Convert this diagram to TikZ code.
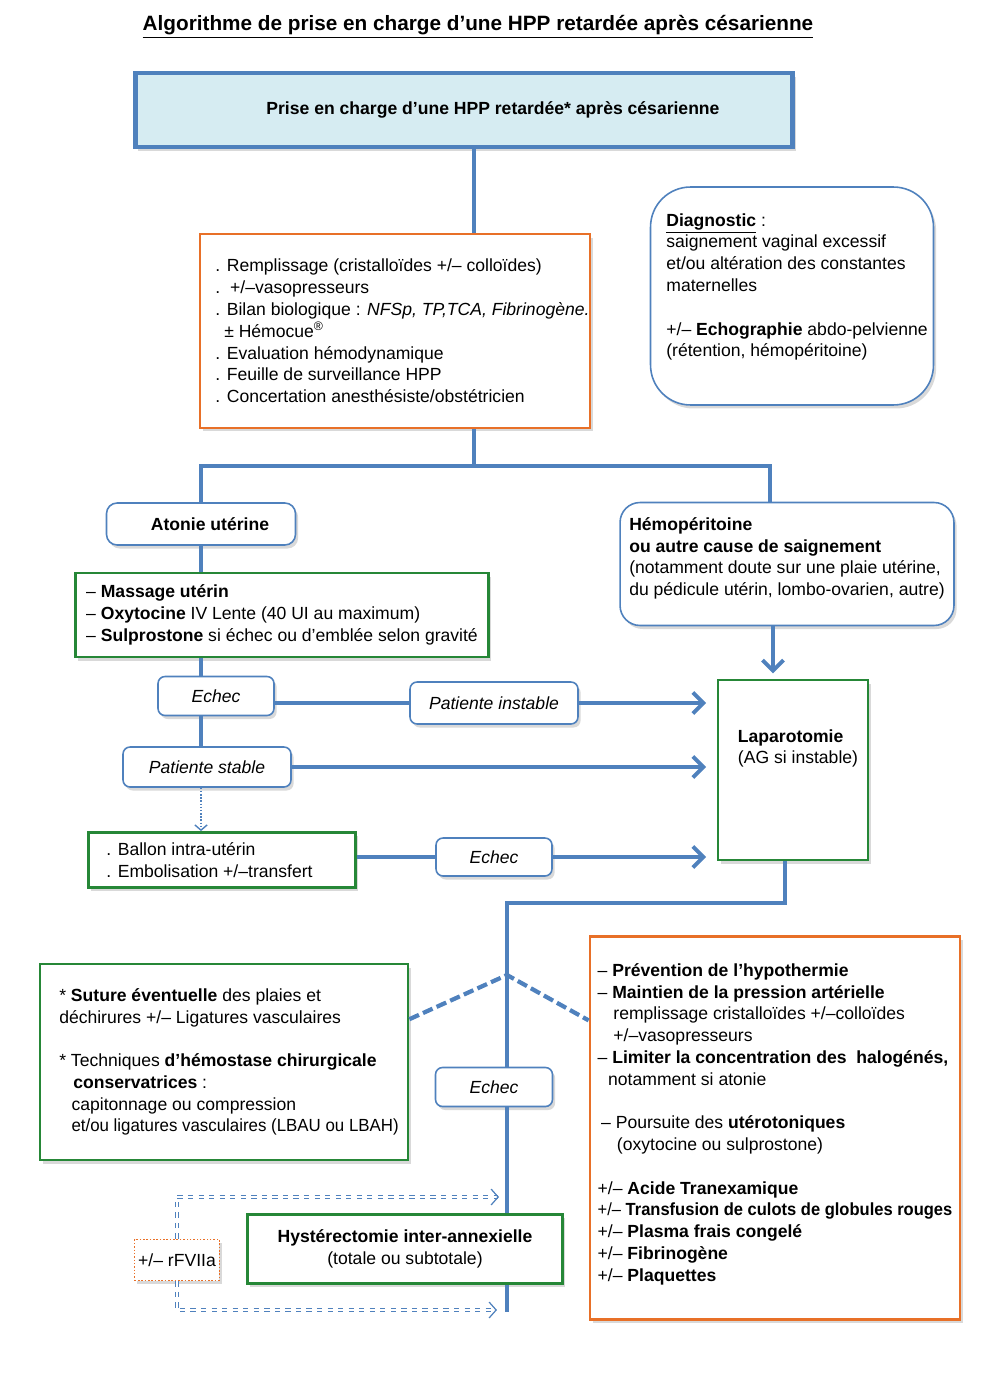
\documentclass[tikz,border=0pt]{standalone}
\usepackage{fontspec}
\setmainfont{Liberation Sans}
\usetikzlibrary{arrows.meta,shadows}

\definecolor{hppblue}{RGB}{79,129,189}
\definecolor{hppfill}{RGB}{214,236,242}
\definecolor{hpporange}{RGB}{232,112,40}
\definecolor{hppgreen}{RGB}{38,135,55}

\begin{document}
\begin{tikzpicture}[x=0.02cm, y=-0.02cm,
    every node/.style={font=\fontsize{10}{12.4}\selectfont},
    boxshadow/.style={drop shadow={shadow xshift=1.5pt, shadow yshift=-2pt, opacity=0.3}},
    headbox/.style={rectangle, draw=hppblue, line width=2.8pt, fill=hppfill, boxshadow,
        font=\bfseries\fontsize{10}{12.4}\selectfont},
    carebox/.style={rectangle, draw=hpporange, line width=1.6pt, fill=white, boxshadow, align=left},
    actbox/.style={rectangle, draw=hppgreen, line width=1.6pt, fill=white, boxshadow, align=left},
    causebox/.style={rectangle, rounded corners=6pt, draw=hppblue, line width=0.9pt, fill=white,
        boxshadow, align=left},
    tagbox/.style={rectangle, rounded corners=4pt, draw=hppblue, line width=0.9pt, fill=white,
        boxshadow, font=\itshape\fontsize{10}{12.4}\selectfont},
    link/.style={draw=hppblue, line width=2.2pt},
    arrowlink/.style={link, -{Straight Barb[length=6pt, width=12pt]}, shorten >=6pt},
    dotlink/.style={draw=hppblue, line width=0.8pt, densely dotted, -{Straight Barb[length=3pt, width=7pt]}},
    forklink/.style={draw=hppblue, line width=2.4pt, dash pattern=on 6pt off 2.5pt},
    rfvlink/.style={draw=hppblue, line width=0.7pt, double=white, double distance=1.2pt, dashed,
        -{Straight Barb[length=4pt, width=9pt]}}
]
    \useasboundingbox (0,0) rectangle (1000,1382);

    % title and header
    \node[font=\bfseries\fontsize{11.8}{14}\selectfont] (title) at (478,27)
        {\underline{Algorithme de prise en charge d’une HPP retardée après césarienne}};
    \node[headbox, minimum width=13.16cm, minimum height=1.48cm] (top) at (464,110)
        {\hspace*{1.16cm}Prise en charge d’une HPP retardée* après césarienne};

    % first measures and diagnosis
    \node[carebox, inner xsep=0pt, minimum width=7.8cm, minimum height=3.88cm] (care) at (395,331)
        {\hspace*{0.3cm}. Remplissage (cristalloïdes +/– colloïdes)\\
         \hspace*{0.3cm}.\ \ +/–vasopresseurs\\
         \hspace*{0.3cm}. Bilan biologique : \textit{NFSp, TP,TCA, Fibrinogène.}\\
         \hspace*{0.3cm}\hspace*{0.5em}± Hémocue\textsuperscript{®}\\
         \hspace*{0.3cm}. Evaluation hémodynamique\\
         \hspace*{0.3cm}. Feuille de surveillance HPP\\
         \hspace*{0.3cm}. Concertation anesthésiste/obstétricien};
    \node[causebox, inner xsep=3pt, rounded corners=0.8cm, minimum width=5.66cm, minimum height=4.36cm]
        (diag) at (792,296)
        {\hspace*{0.2cm}\underline{\textbf{Diagnostic}} :\\
         \hspace*{0.2cm}saignement vaginal excessif\\
         \hspace*{0.2cm}et/ou altération des constantes\\
         \hspace*{0.2cm}maternelles\\[12.4pt]
         \hspace*{0.2cm}+/– \textbf{Echographie} abdo-pelvienne\\
         \hspace*{0.2cm}(rétention, hémopéritoine)\\\mbox{}};

    % causes
    \node[causebox, minimum width=3.78cm, minimum height=0.84cm, font=\bfseries\fontsize{10}{12.4}\selectfont]
        (atonie) at (201,524) {\hspace*{0.36cm}Atonie utérine};
    \node[causebox, rounded corners=0.4cm, minimum width=6.68cm, minimum height=2.46cm] (hemo) at (787,564)
        {\textbf{Hémopéritoine}\\
         \textbf{ou autre cause de saignement}\\
         (notamment doute sur une plaie utérine,\\
         du pédicule utérin, lombo-ovarien, autre)\\[-4pt]\mbox{}};
    \node[actbox, minimum width=8.26cm, minimum height=1.68cm] (massage) at (282,615)
        {– \textbf{Massage utérin}\\
         – \textbf{Oxytocine} IV Lente (40 UI au maximum)\\
         – \textbf{Sulprostone} si échec ou d’emblée selon gravité};

    % second line
    \node[tagbox, minimum width=2.32cm, minimum height=0.78cm] (echec) at (216,696) {Echec};
    \node[tagbox, minimum width=3.36cm, minimum height=0.84cm] (instable) at (494,703) {Patiente instable};
    \node[tagbox, minimum width=3.36cm, minimum height=0.8cm] (stable) at (207,767) {Patiente stable};
    \node[actbox, minimum width=5.34cm, minimum height=1.1cm] (ballon) at (222,860)
        {. Ballon intra-utérin\\
         . Embolisation +/–transfert\hspace*{0.5cm}};
    \node[tagbox, minimum width=2.32cm, minimum height=0.76cm] (echec2) at (494,857) {Echec};
    \node[actbox, minimum width=3cm, minimum height=3.6cm] (lapar) at (793,770)
        {\hspace*{0.2cm}\textbf{Laparotomie}\\
         \hspace*{0.2cm}(AG si instable)\\[0.5cm]\mbox{}};

    % after laparotomy
    \node[actbox, inner xsep=2pt, minimum width=7.36cm, minimum height=3.92cm] (gleft) at (224,1062)
        {\hspace*{0.2cm}* \textbf{Suture éventuelle} des plaies et\\
         \hspace*{0.2cm}déchirures +/– Ligatures vasculaires\\[12.4pt]
         \hspace*{0.2cm}* Techniques \textbf{d’hémostase chirurgicale}\\
         \hspace*{0.2cm}\hspace*{0.8em}\textbf{conservatrices} :\\
         \hspace*{0.2cm}\hspace*{0.7em}capitonnage ou compression\\
         \hspace*{0.2cm}\hspace*{0.7em}\scalebox{0.96}[1]{et/ou ligatures vasculaires (LBAU ou LBAH)}};
    \node[carebox, inner xsep=2pt, minimum width=7.4cm, minimum height=7.66cm] (orange2) at (775,1128)
        {– \textbf{Prévention de l’hypothermie}\\
         – \textbf{Maintien de la pression artérielle}\\
         \hspace*{0.9em}remplissage cristalloïdes +/–colloïdes\\
         \hspace*{0.9em}+/–vasopresseurs\\
         – \textbf{Limiter la concentration des \ halogénés,}\\
         \hspace*{0.6em}notamment si atonie\\[12.4pt]
         \hspace*{0.2em}– Poursuite des \textbf{utérotoniques}\\
         \hspace*{1.1em}(oxytocine ou sulprostone)\\[12.4pt]
         +/– \textbf{Acide Tranexamique}\\
         \scalebox{0.94}[1]{+/– \textbf{Transfusion de culots de globules rouges}}\\
         +/– \textbf{Plasma frais congelé}\\
         +/– \textbf{Fibrinogène}\\
         +/– \textbf{Plaquettes}\\[-6pt]\mbox{}};
    \node[tagbox, minimum width=2.34cm, minimum height=0.78cm] (echec3) at (494,1087) {Echec};
    \node[actbox, align=center, minimum width=6.3cm, minimum height=1.38cm] (hyst) at (405,1249)
        {\textbf{Hystérectomie inter-annexielle}\\(totale ou subtotale)};
    \node[rectangle, draw=hpporange, densely dotted, line width=0.9pt, fill=white, boxshadow,
        minimum width=1.64cm, minimum height=0.82cm, inner sep=2pt] (rfv) at (177,1260) {+/– rFVIIa};

    % junctions
    \coordinate (trunk) at (474,466);
    \coordinate (right) at (770,466);
    \coordinate (hemodrop) at (773,640);
    \coordinate (lapdrop) at (785,880);
    \coordinate (turn) at (507,903);
    \coordinate (fork) at (507,975);
    \coordinate (trunkend) at (507,1312);
    \coordinate (rtop) at (499,1197);
    \coordinate (rbot) at (497,1310);

    % connectors
    \draw[link] (top.south -| trunk) -- (care.north -| trunk);
    \draw[link] (care.south -| trunk) -- (trunk);
    \draw[link] (atonie.north) |- (right) -- (hemo.north -| right);
    \draw[link] (atonie.south) -- (atonie.south |- massage.north);
    \draw[link] (massage.south -| atonie) -- (echec.north -| atonie);
    \draw[link] (echec.south -| atonie) -- (stable.north -| atonie);
    \draw[link] (echec.east |- instable) -- (instable.west);
    \draw[arrowlink] (instable.east) -- (instable.east -| lapar.west);
    \draw[arrowlink] (stable.east) -- (stable.east -| lapar.west);
    \draw[dotlink] (stable.south -| atonie) -- (ballon.north -| atonie);
    \draw[link] (ballon.east |- echec2) -- (echec2.west);
    \draw[arrowlink] (echec2.east) -- (echec2.east -| lapar.west);
    \draw[arrowlink, shorten >=3pt] (hemo.south -| hemodrop) -- (lapar.north -| hemodrop);
    \draw[link] (lapar.south -| lapdrop) |- (turn) -- (echec3.north -| turn);
    \draw[link] (echec3.south -| turn) -- (hyst.north -| turn);
    \draw[link] (hyst.south -| turn) -- (trunkend);
    \draw[forklink] (gleft.13) -- (fork) -- (orange2.150);
    \draw[rfvlink] (rfv.north) |- (rtop);
    \draw[rfvlink] (rfv.south) |- (rbot);
\end{tikzpicture}
\end{document}
